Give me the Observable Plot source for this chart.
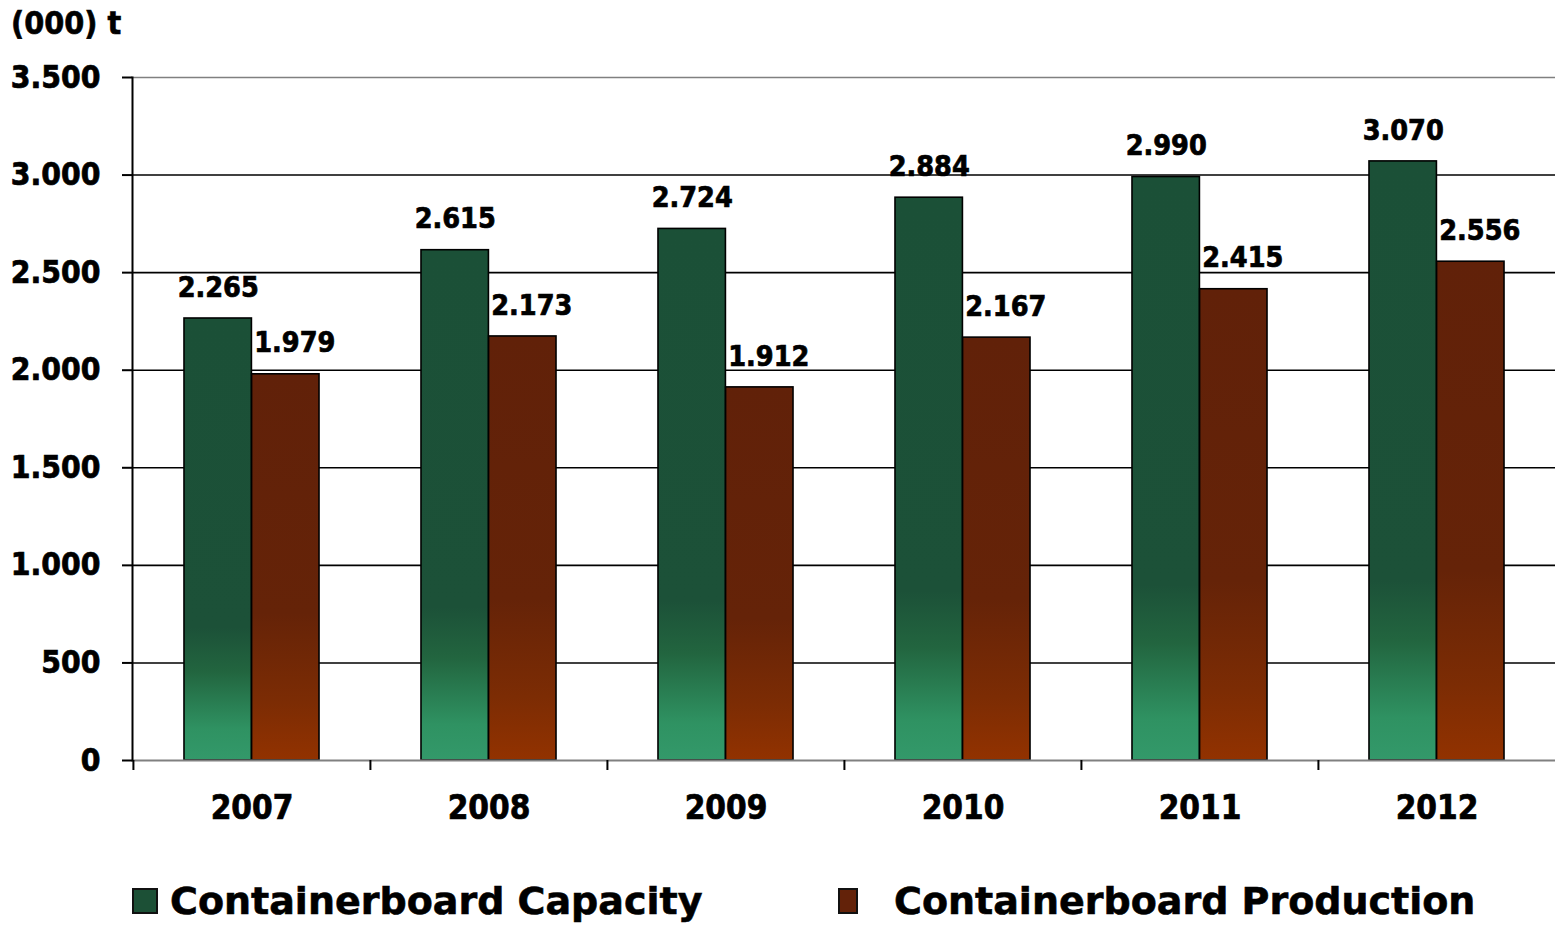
<!DOCTYPE html>
<html>
<head>
<meta charset="utf-8">
<script src="https://cdn.jsdelivr.net/npm/d3@7"></script>
<script src="https://cdn.jsdelivr.net/npm/@observablehq/plot@0.6"></script>
<style>
  html, body { margin: 0; padding: 0; background: #fff; }
  #wrap { position: relative; width: 1555px; height: 927px; overflow: hidden; font-family: "DejaVu Sans", sans-serif; }
  #unit { position: absolute; left: 11px; top: 4px; font: bold 32px "DejaVu Sans Condensed", "DejaVu Sans", sans-serif; color: #000; -webkit-text-stroke: 0.6px #000; }
  #chart { position: absolute; left: 0; top: 0; }
  #chart svg text { stroke: #000; stroke-width: 0.7px; }
  .leg { position: absolute; top: 879px; display: flex; align-items: center; font: bold 38px "DejaVu Sans", sans-serif; color: #000; white-space: nowrap; -webkit-text-stroke: 0.6px #000; }
  .sw { display: inline-block; width: 22px; height: 22px; border: 2px solid #111; margin-right: 12px; }
</style>
</head>
<body>
<div id="wrap">
  <div id="chart"></div>
  <div id="unit">(000) t</div>
  <div class="leg" id="leg0" style="left:132px"><span class="sw" style="background:#1c5036"></span><span id="legt0"></span></div>
  <div class="leg" id="leg1" style="left:838px"><span class="sw" style="background:#632209;width:16px;margin-right:36px"></span><span id="legt1"></span></div>
</div>
<script>
const years = ["2007", "2008", "2009", "2010", "2011", "2012"];
const capacity = [2265, 2615, 2724, 2884, 2990, 3070];
const production = [1979, 2173, 1912, 2167, 2415, 2556];
const seriesNames = ["Containerboard Capacity", "Containerboard Production"];
const yTicks = [0, 500, 1000, 1500, 2000, 2500, 3000, 3500];

const capRows = years.map((y, i) => ({year: y, series: seriesNames[0], value: capacity[i]}));
const prodRows = years.map((y, i) => ({year: y, series: seriesNames[1], value: production[i]}));

const locale = d3.formatLocale({decimal: ",", thousands: ".", grouping: [3], currency: ["", ""]});
const fmt = locale.format(",d");

const W = 1555, H = 860, mL = 132, mR = 0, mT = 77, mB = 100;
const step = (W - mL - mR) / years.length;
const barW = 0.285 * step;
const capL = 0.215 * step;
const capR = step - capL - barW;
const prodL = capL + barW;
const prodR = step - prodL - barW;
const capDx = capL + barW / 2 - step / 2;
const prodDx = prodL + barW / 2 - step / 2 + 9;

const plot = Plot.plot({
  width: W, height: H,
  marginLeft: mL, marginRight: mR, marginTop: mT, marginBottom: mB,
  style: {fontFamily: "'DejaVu Sans Condensed', 'DejaVu Sans', sans-serif", fontWeight: "bold", color: "#000", background: "#fff"},
  x: {type: "band", domain: years, padding: 0, label: null, axis: null},
  y: {domain: [0, 3500], label: null, axis: null},
  marks: [
    Plot.ruleY(yTicks.filter(v => v > 0 && v < 3500), {stroke: "#000", strokeWidth: 1.6}),
    Plot.ruleY([3500], {stroke: "#808080", strokeWidth: 1.6}),
    Plot.barY(capRows, {x: "year", y: "value", fill: "url(#gCap)", stroke: "#000", strokeWidth: 1.6, insetLeft: capL, insetRight: capR}),
    Plot.barY(prodRows, {x: "year", y: "value", fill: "url(#gProd)", stroke: "#000", strokeWidth: 1.6, insetLeft: prodL, insetRight: prodR}),
    Plot.ruleY([0], {stroke: "#808080", strokeWidth: 2}),
    Plot.frame({anchor: "left", stroke: "#000", strokeWidth: 2}),
    Plot.axisY({ticks: yTicks, tickFormat: fmt, tickSize: 10, tickPadding: 22, fontSize: 31.5, fontWeight: "bold", label: null, stroke: "#000", strokeWidth: 2}),
    Plot.axisX({ticks: years, tickSize: 10, tickFormat: () => "", dx: -step / 2, label: null, stroke: "#000", strokeWidth: 2}),
    Plot.axisX({ticks: years, tickSize: 0, tickPadding: 35, fontSize: 33, fontWeight: "bold", label: null}),
    Plot.text(capRows, {x: "year", y: "value", text: d => fmt(d.value), dx: capDx, dy: -31, fontSize: 28.5, fontWeight: "bold", fill: "#000"}),
    Plot.text(prodRows, {x: "year", y: "value", text: d => fmt(d.value), dx: prodDx, dy: -31, fontSize: 28.5, fontWeight: "bold", fill: "#000"})
  ]
});

// gradient definitions for the bar fills
const ns = "http://www.w3.org/2000/svg";
const defs = document.createElementNS(ns, "defs");
function grad(id, stops) {
  const g = document.createElementNS(ns, "linearGradient");
  g.setAttribute("id", id);
  g.setAttribute("x1", "0"); g.setAttribute("y1", "0");
  g.setAttribute("x2", "0"); g.setAttribute("y2", "1");
  for (const [o, c] of stops) {
    const s = document.createElementNS(ns, "stop");
    s.setAttribute("offset", o);
    s.setAttribute("stop-color", c);
    g.appendChild(s);
  }
  defs.appendChild(g);
}
grad("gCap", [[0, "#1b5037"], [0.70, "#1c5138"], [0.80, "#22653f"], [0.93, "#2f9262"], [1, "#33996a"]]);
grad("gProd", [[0, "#612109"], [0.62, "#652308"], [0.85, "#7c2c04"], [1, "#923200"]]);
plot.insertBefore(defs, plot.firstChild);

document.getElementById("chart").appendChild(plot);
document.getElementById("legt0").textContent = seriesNames[0];
document.getElementById("legt1").textContent = seriesNames[1];
</script>
</body>
</html>
